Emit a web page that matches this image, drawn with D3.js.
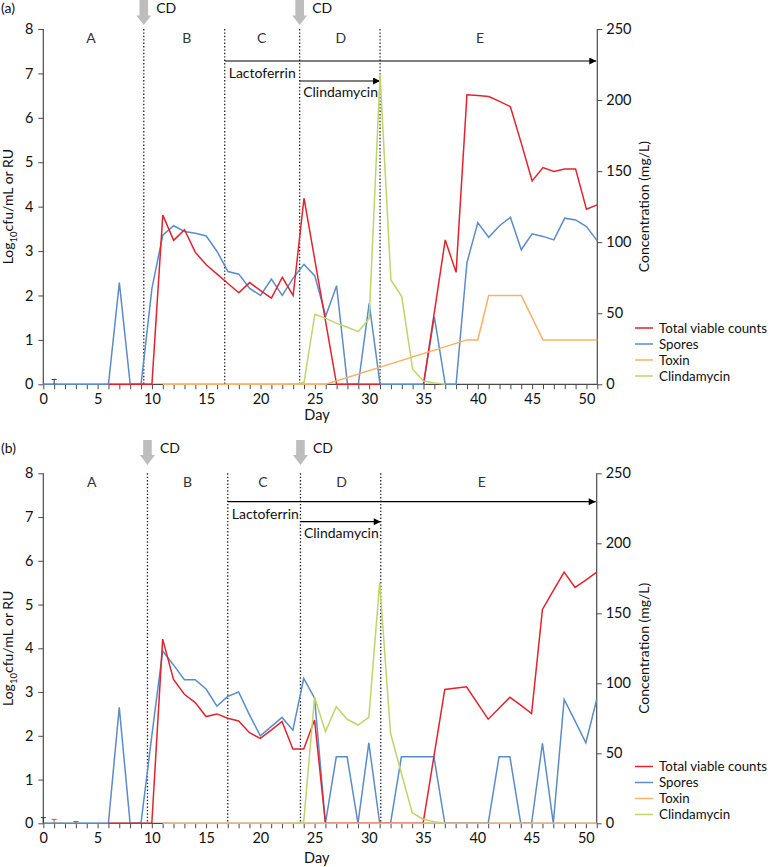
<!DOCTYPE html>
<html><head><meta charset="utf-8">
<script src="https://cdn.jsdelivr.net/npm/d3@7"></script>
<style>
body{margin:0;background:#fff}
text{font-family:Lato,"Open Sans",sans-serif;fill:#111}
</style>
</head><body>
<svg id="c" width="771" height="867"></svg>
<script>
// ---------- data ----------
const dayTicks = [0,5,10,15,20,25,30,35,40,45,50];
const leftTicks = [0,1,2,3,4,5,6,7,8];
const rightTicks = [0,50,100,150,200,250];
const phaseNames = ["A","B","C","D","E"];
const legendLabels = ["Total viable counts","Spores","Toxin","Clindamycin"];

// panel (a)
const aPhaseBounds = [9.25,16.7,23.6,31.0];
const aPhaseLabelDays = [4.4,13.2,20.1,27.4,40.2];
const aCdDays = [9.25,23.6];
const aLactoStart = 16.7, aClindaStart = 23.6, aClindaEnd = 31.0;

const aTvcDays = [6,7,8,9,10,11,12,13,14,15,16,17,18,19,20,21,22,23,24,27,28,29,30,31,32,35,37,38,39,40,41,42,43,44,45,46,47,48,49,50,51];
const aTvcVals = [0,0,0,0,0,3.81,3.24,3.48,2.97,2.69,2.48,2.27,2.06,2.29,2.11,1.94,2.41,2.00,4.19,0,0,0,0,0,null,0,3.25,2.52,6.52,6.50,6.48,6.37,6.25,5.43,4.58,4.88,4.79,4.85,4.85,3.94,4.04];

const aSporeDays = [0,1,2,3,4,5,6,7,8,9,10,11,12,13,14,15,16,17,18,19,20,21,22,23,24,25,26,27,28,29,30,31,32,33,34,35,36,37,38,39,40,41,42,43,44,45,46,47,48,49,50,51];
const aSporeVals = [0,0,0,0,0,0,0,2.29,0,0,2.16,3.36,3.57,3.44,3.40,3.34,2.99,2.54,2.48,2.16,2.00,2.37,2.00,2.39,2.70,2.44,1.54,2.22,0,0,1.82,0,0,0,0,0,1.52,0,0,2.74,3.64,3.31,3.57,3.76,3.03,3.39,3.33,3.25,3.74,3.70,3.55,3.23];

const aToxinDays = [11,26,39,40,41,44,46,51];
const aToxinVals = [0,0,1,1,2,2,1,1];

const aClindaDays = [23,24,25,26,27,28,29,30,31,32,33,34,35,36,37];
const aClindaVals = [0,1.2,49.3,46.4,42.9,40.1,37,46.4,217.7,73.4,61.7,10.6,2.3,1,0];

const aErrDays = [1];
const aErrTops = [0.11];

// panel (b)
const bPhaseBounds = [9.6,17.0,23.7,31.1];
const bPhaseLabelDays = [4.46,13.3,20.25,27.5,40.4];
const bCdDays = [9.6,23.7];
const bLactoStart = 17.0, bClindaStart = 23.7, bClindaEnd = 31.1;

const bTvcDays = [6,7,8,9,10,11,12,13,14,15,16,17,18,19,20,21,22,23,24,25,26,27,28,29,30,31,32,33,34,35,37,39,41,42,43,44,45,46,47,48,49,50,51];
const bTvcVals = [0,0,0,0,0,4.21,3.29,2.95,2.76,2.44,2.50,2.40,2.34,2.07,1.94,2.13,2.33,1.70,1.70,2.36,0,0,0,0,0,0,0,0,0,0,3.06,3.12,2.38,2.63,2.88,2.70,2.51,4.89,5.32,5.74,5.39,5.56,5.74];

const bSporeDays = aSporeDays;
const bSporeVals = [0,0,0,0,0,0,0,2.65,0,0,2.0,3.94,3.62,3.28,3.28,3.07,2.68,2.90,3.00,2.48,2.00,2.21,2.42,2.13,3.31,2.86,0,1.52,1.52,0,1.84,0,0,1.52,1.52,1.52,1.52,0,0,0,0,0,1.52,1.52,0,0,1.83,0,2.83,2.34,1.84,2.83];

const bToxinDays = [11,51];
const bToxinVals = [0,0];

const bClindaDays = [23,24,25,26,27,28,29,30,31,32,33,34,35,36,37];
const bClindaVals = [0,1.2,90,65.5,83.3,74.3,70.2,75.7,171.9,64.3,35.7,7.6,2.9,1.2,0];

const bErrDays = [0,1,3];
const bErrTops = [0.13,0.09,0.04];

// ---------- drawing ----------
const colors = {tvc:"#e2232f", spores:"#5b8cc8", toxin:"#f6b266", clinda:"#bcd66b"};
const FS = "14px";
const svg = d3.select("#c");

svg.append("defs").append("marker")
  .attr("id","ah").attr("viewBox","0 0 10 10").attr("refX",10).attr("refY",5)
  .attr("markerWidth",8).attr("markerHeight",7).attr("markerUnits","userSpaceOnUse")
  .attr("orient","auto")
  .append("path").attr("d","M0,0L10,5L0,10Z").attr("fill","#000");

function zip(ds, vs){ return ds.map((d,i)=>[d, vs[i]]); }

function drawPanel(p){
  const g = svg.append("g");
  const x = d3.scaleLinear().domain([0,51]).range([p.left, p.right]);
  const y = d3.scaleLinear().domain([0,8]).range([p.bottom, p.top]);
  const yr = d3.scaleLinear().domain([0,250]).range([p.bottom, p.top]);

  g.append("text").attr("x",1).attr("y",p.labelY).attr("dy","0.35em")
    .style("font-size",FS).text(p.name);

  p.cd.forEach(d=>{
    const cx = x(d), t = p.arrowTop, hs = p.arrowHead, tip = p.arrowTip;
    const sw = 4.3, hw = 7.5;
    g.append("path").attr("fill","#bdbdbd")
      .attr("d",`M${cx-sw},${t}L${cx+sw},${t}L${cx+sw},${hs}L${cx+hw},${hs}L${cx},${tip}L${cx-hw},${hs}L${cx-sw},${hs}Z`);
    g.append("text").attr("x",cx+12.5).attr("y",p.labelY).attr("dy","0.35em")
      .style("font-size",FS).text("CD");
  });

  p.bounds.forEach(d=>{
    g.append("line").attr("x1",x(d)).attr("x2",x(d)).attr("y1",p.top).attr("y2",p.bottom)
      .attr("stroke","#222").attr("stroke-width",1.3).attr("stroke-dasharray","1.4,2");
  });
  p.phaseDays.forEach((d,i)=>{
    g.append("text").attr("x",x(d)).attr("y",p.top+p.phaseOff).attr("dy","0.35em")
      .attr("text-anchor","middle").style("font-size",FS).style("fill","#333").text(phaseNames[i]);
  });

  g.append("line").attr("x1",x(p.lacto)).attr("x2",x(51)-1).attr("y1",p.top+p.lactoOff).attr("y2",p.top+p.lactoOff)
    .attr("stroke","#000").attr("stroke-width",1.2).attr("marker-end","url(#ah)");
  g.append("text").attr("x",x(p.lacto)+4).attr("y",p.top+p.lactoOff+12).attr("dy","0.35em")
    .style("font-size",FS).text("Lactoferrin");
  g.append("line").attr("x1",x(p.clS)).attr("x2",x(p.clE)).attr("y1",p.top+p.clindaOff).attr("y2",p.top+p.clindaOff)
    .attr("stroke","#000").attr("stroke-width",1.2).attr("marker-end","url(#ah)");
  g.append("text").attr("x",x(p.clS)+3.5).attr("y",p.top+p.clindaOff+11.5).attr("dy","0.35em")
    .style("font-size",FS).text("Clindamycin");

  const ax = g.append("g").attr("transform",`translate(0,${p.bottom})`)
    .call(d3.axisBottom(x).tickValues(d3.range(0,52)).tickSize(5).tickPadding(4)
      .tickFormat(d=> dayTicks.includes(d) ? d : ""));
  const ayl = g.append("g").attr("transform",`translate(${p.left},0)`)
    .call(d3.axisLeft(y).tickValues(leftTicks).tickSize(5).tickPadding(5));
  const ayr = g.append("g").attr("transform",`translate(${p.right},0)`)
    .call(d3.axisRight(yr).tickValues(rightTicks).tickSize(5).tickPadding(4));
  [ax,ayl,ayr].forEach(a=>{
    a.select(".domain").attr("stroke","#4a4a4a").attr("stroke-width",1.2);
    a.selectAll(".tick line").attr("stroke","#4a4a4a").attr("stroke-width",1);
    a.selectAll("text").style("font-size","14.5px").style("font-family","Lato,'Open Sans',sans-serif").attr("fill","#111");
  });
  ax.select(".domain").attr("d",`M${p.left},0H${p.right}`);
  ayl.select(".domain").attr("d",`M0,${p.top}V${p.bottom}`);
  ayr.select(".domain").attr("d",`M0,${p.top}V${p.bottom}`);

  const yl = g.append("text").attr("transform",`translate(${p.ylX},${(p.top+p.bottom)/2}) rotate(-90)`)
    .attr("text-anchor","middle").style("font-size",FS);
  yl.append("tspan").text("Log");
  yl.append("tspan").attr("dy","4").style("font-size","9.5px").text("10");
  yl.append("tspan").attr("dy","-4").text("cfu/mL or RU");
  g.append("text").attr("transform",`translate(${p.yrX},${(p.top+p.bottom)/2}) rotate(-90)`)
    .attr("text-anchor","middle").style("font-size",FS).text("Concentration (mg/L)");
  g.append("text").attr("x",x(25.2)).attr("y",p.dayY).attr("dy","0.35em")
    .attr("text-anchor","middle").style("font-size","14.5px").text("Day");

  const lineL = d3.line().defined(d=>d[1]!==null).x(d=>x(d[0])).y(d=>y(d[1]));
  const lineR = d3.line().defined(d=>d[1]!==null).x(d=>x(d[0])).y(d=>yr(d[1]));
  g.append("path").datum(zip(p.sporeD,p.sporeV)).attr("d",lineL).attr("fill","none").attr("stroke",colors.spores).attr("stroke-width",1.5);
  g.append("path").datum(zip(p.tvcD,p.tvcV)).attr("d",lineL).attr("fill","none").attr("stroke",colors.tvc).attr("stroke-width",1.5);
  g.append("path").datum(zip(p.toxD,p.toxV)).attr("d",lineL).attr("fill","none").attr("stroke",colors.toxin).attr("stroke-width",1.5);
  g.append("path").datum(zip(p.clD,p.clV)).attr("d",lineR).attr("fill","none").attr("stroke",colors.clinda).attr("stroke-width",1.5);

  p.errD.forEach((d,i)=>{
    const cx = x(d), yt = y(p.errT[i]);
    const col = (p.name==="(a)" || d===0) ? "#333" : "#c0505a";
    g.append("line").attr("x1",cx).attr("x2",cx).attr("y1",y(0)).attr("y2",yt).attr("stroke",col).attr("stroke-width",1);
    g.append("line").attr("x1",cx-2.5).attr("x2",cx+2.5).attr("y1",yt).attr("y2",yt).attr("stroke",col).attr("stroke-width",1);
  });

  const lc = [colors.tvc,colors.spores,colors.toxin,colors.clinda];
  legendLabels.forEach((l,i)=>{
    const ly = p.legY + i*16;
    g.append("line").attr("x1",635).attr("x2",653).attr("y1",ly).attr("y2",ly).attr("stroke",lc[i]).attr("stroke-width",1.5);
    g.append("text").attr("x",659).attr("y",ly).attr("dy","0.35em").style("font-size","13.3px").text(l);
  });
}

drawPanel({name:"(a)", left:43.3, right:597.3, top:29, bottom:384.3, labelY:8,
  arrowTop:0, arrowHead:15.5, arrowTip:25, cd:aCdDays, bounds:aPhaseBounds, phaseDays:aPhaseLabelDays,
  phaseOff:9, lacto:aLactoStart, clS:aClindaStart, clE:aClindaEnd, lactoOff:32, clindaOff:52,
  ylX:13, yrX:649, dayY:415, legY:328,
  tvcD:aTvcDays, tvcV:aTvcVals, sporeD:aSporeDays, sporeV:aSporeVals,
  toxD:aToxinDays, toxV:aToxinVals, clD:aClindaDays, clV:aClindaVals, errD:aErrDays, errT:aErrTops});

drawPanel({name:"(b)", left:43.3, right:596.7, top:473.3, bottom:823.3, labelY:448,
  arrowTop:440, arrowHead:455, arrowTip:465, cd:bCdDays, bounds:bPhaseBounds, phaseDays:bPhaseLabelDays,
  phaseOff:8.7, lacto:bLactoStart, clS:bClindaStart, clE:bClindaEnd, lactoOff:28.4, clindaOff:48.4,
  ylX:13, yrX:649, dayY:858, legY:766.5,
  tvcD:bTvcDays, tvcV:bTvcVals, sporeD:bSporeDays, sporeV:bSporeVals,
  toxD:bToxinDays, toxV:bToxinVals, clD:bClindaDays, clV:bClindaVals, errD:bErrDays, errT:bErrTops});
</script>
</body></html>
